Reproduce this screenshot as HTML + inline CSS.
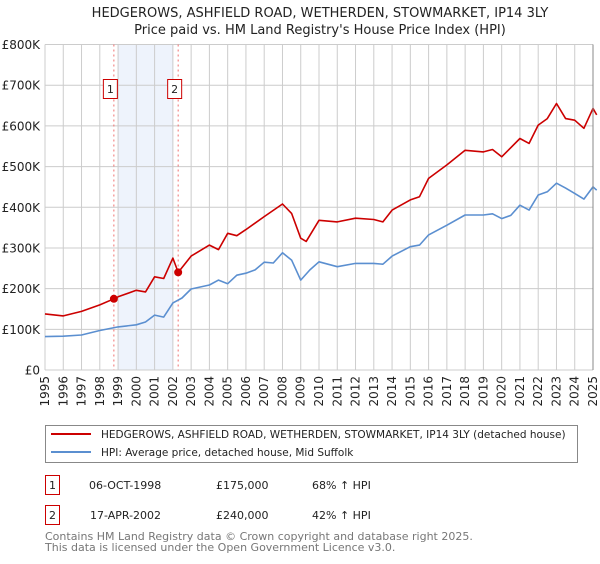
<!DOCTYPE html>
<html><head><meta charset="utf-8"><style>
body{margin:0;background:#fff;font-family:"DejaVu Sans","Liberation Sans",sans-serif;}
svg text{font-family:"DejaVu Sans","Liberation Sans",sans-serif;}
</style></head><body>
<svg id="chart" width="600" height="560" xmlns="http://www.w3.org/2000/svg">
<text x="320" y="17" text-anchor="middle" font-size="13" fill="#222">HEDGEROWS, ASHFIELD ROAD, WETHERDEN, STOWMARKET, IP14 3LY</text>
<text x="320" y="34" text-anchor="middle" font-size="13" fill="#222">Price paid vs. HM Land Registry's House Price Index (HPI)</text>
<g id="grid"></g>
<g id="series"></g>
<g id="legend">
<rect x="45.5" y="425.5" width="532" height="37" fill="#fff" stroke="#888"/>
<line x1="51" y1="434" x2="91" y2="434" stroke="#cc0000" stroke-width="2"/>
<text x="101" y="438" font-size="10.5" fill="#222">HEDGEROWS, ASHFIELD ROAD, WETHERDEN, STOWMARKET, IP14 3LY (detached house)</text>
<line x1="51" y1="452" x2="91" y2="452" stroke="#5b8fd0" stroke-width="2"/>
<text x="101" y="456" font-size="10.5" fill="#222">HPI: Average price, detached house, Mid Suffolk</text>
</g>
<g font-size="11" fill="#222">
<rect x="45.5" y="475.5" width="14" height="19" fill="#fff" stroke="#cc0000"/>
<text x="52.5" y="489" text-anchor="middle">1</text>
<text x="89" y="489">06-OCT-1998</text>
<text x="216" y="489">£175,000</text>
<text x="312" y="489">68% ↑ HPI</text>
<rect x="45.5" y="505.5" width="14" height="19" fill="#fff" stroke="#cc0000"/>
<text x="52.5" y="519" text-anchor="middle">2</text>
<text x="90" y="519">17-APR-2002</text>
<text x="216" y="519">£240,000</text>
<text x="312" y="519">42% ↑ HPI</text>
</g>
<text x="45" y="540" font-size="11" fill="#777">Contains HM Land Registry data © Crown copyright and database right 2025.</text>
<text x="45" y="551" font-size="11" fill="#777">This data is licensed under the Open Government Licence v3.0.</text>
</svg>
<script>
const years=[1995,1996,1997,1998,1999,2000,2001,2002,2003,2004,2005,2006,2007,2008,2009,2010,2011,2012,2013,2014,2015,2016,2017,2018,2019,2020,2021,2022,2023,2024,2025];
const yTicks=[0,100,200,300,400,500,600,700,800];
const yTickLabels=["£0","£100K","£200K","£300K","£400K","£500K","£600K","£700K","£800K"];
const hpiT=[1995,1996,1997,1998,1999,2000,2000.5,2001,2001.5,2002,2002.5,2003,2004,2004.5,2005,2005.5,2006,2006.5,2007,2007.5,2008,2008.5,2009,2009.5,2010,2011,2012,2013,2013.5,2014,2015,2015.5,2016,2017,2018,2019,2019.5,2020,2020.5,2021,2021.5,2022,2022.5,2023,2023.5,2024,2024.5,2025,2025.2];
const hpiV=[82,83,86,97,106,111,118,135,130,165,177,199,209,221,212,233,238,246,265,263,288,270,221,246,266,254,262,262,260,280,303,307,332,356,381,381,384,372,380,405,393,430,438,459,447,434,420,450,442];
const redT=[1995,1996,1997,1998,1998.77,1999,2000,2000.5,2001,2001.5,2002,2002.29,2003,2004,2004.5,2005,2005.5,2006,2007,2008,2008.5,2009,2009.3,2010,2011,2012,2013,2013.5,2014,2015,2015.5,2016,2017,2018,2019,2019.5,2020,2021,2021.5,2022,2022.5,2023,2023.5,2024,2024.5,2025,2025.2];
const redV=[138,133,144,160,175,180,196,192,229,225,275,240,280,307,296,336,330,345,377,408,385,324,316,368,364,373,370,364,393,418,426,471,504,540,536,542,524,569,557,602,618,655,618,614,594,643,627];
const saleT=[1998.77,2002.29];
const saleV=[175,240];
const saleLabels=["1","2"];
const NS="http://www.w3.org/2000/svg";
const X0=45,X1=593,Y0=370,Y1=44.5;
const xs=t=>X0+(t-1995)/(2025-1995)*(X1-X0);
const ys=v=>Y0-v/800*(Y0-Y1);
function mk(tag,attrs,parent){const e=document.createElementNS(NS,tag);for(const k in attrs)e.setAttribute(k,attrs[k]);parent.appendChild(e);return e;}
const grid=document.getElementById('grid'),ser=document.getElementById('series');
const bg=mk('rect',{x:X0,y:Y1,width:X1-X0,height:Y0-Y1,fill:'#fff'},grid);


const sh=mk('rect',{x:xs(1999),y:Y1,width:xs(2002)-xs(1999),height:Y0-Y1,fill:'#eef3fc'},grid);


years.forEach(y=>{
 const l=mk('line',{x1:xs(y),x2:xs(y),y1:Y1,y2:Y0,stroke:'#ccc','stroke-width':1},grid);
 
 
 const t=mk('text',{transform:`translate(${xs(y)+4},376) rotate(-90)`,'text-anchor':'end','font-size':12,fill:'#222'},grid);
 t.textContent=y;
 
 
});
yTicks.forEach((v,i)=>{
 const l=mk('line',{x1:X0,x2:X1,y1:ys(v),y2:ys(v),stroke:'#ccc','stroke-width':1},grid);
 
 
 const t=mk('text',{x:40,y:ys(v)+4.5,'text-anchor':'end','font-size':12,fill:'#222'},grid);
 t.textContent=yTickLabels[i];
 
 
});
saleT.forEach((t,i)=>{
 const l=mk('line',{x1:xs(t),x2:xs(t),y1:Y1,y2:Y0,stroke:'#f07070','stroke-width':1,'stroke-dasharray':'2,3'},ser);
 
 
 const r=mk('rect',{x:xs(t)-10.5,y:79.5,width:14,height:19,fill:'#fff',stroke:'#cc0000'},ser);
 
 
 const tx=mk('text',{x:xs(t)-3.5,y:93,'text-anchor':'middle','font-size':11,fill:'#222'},ser);
 tx.textContent=saleLabels[i];
 
 
});
function line(T,V,col,name){
 const p=mk('polyline',{points:T.map((t,i)=>xs(t).toFixed(1)+','+ys(V[i]).toFixed(1)).join(' '),fill:'none',stroke:col,'stroke-width':1.6,'stroke-linejoin':'round'},ser);
 
 
}
line(hpiT,hpiV,'#5b8fd0','hpi-line');
line(redT,redV,'#cc0000','property-line');
saleT.forEach((t,i)=>{
 const c=mk('circle',{cx:xs(t),cy:ys(saleV[i]),r:4,fill:'#cc0000'},ser);
 
 
});
const ax=mk('line',{x1:X1,x2:X1,y1:Y1,y2:Y0,stroke:'#888'},ser);


</script>
</body></html>
